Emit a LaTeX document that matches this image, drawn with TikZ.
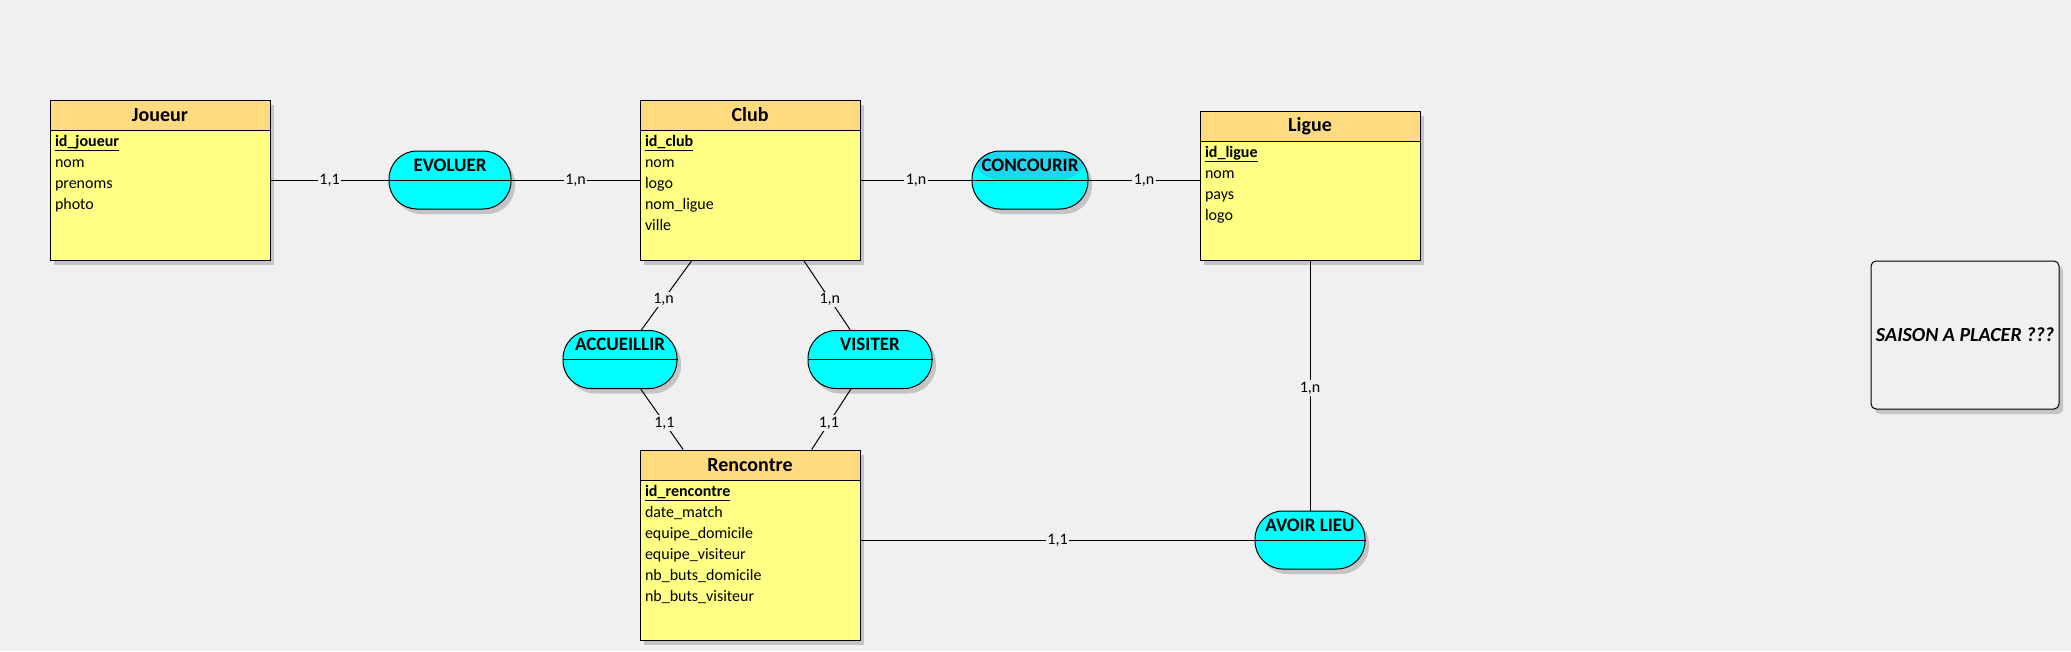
\documentclass[tikz,border=0pt]{standalone}
\usepackage{fontspec}
\setmainfont{Carlito}
\usetikzlibrary{calc, positioning}
\usetikzlibrary{shadows}

\definecolor{bgcol}{HTML}{F0F0F0}
\definecolor{headcol}{HTML}{FFDB80}
\definecolor{bodycol}{HTML}{FFFF85}
\definecolor{assoccol}{HTML}{00FFFF}
\definecolor{assocdark}{HTML}{1CD6F2}
\definecolor{shadowcol}{HTML}{C4C4C4}

\tikzset{
  boxshadow/.style={drop shadow={shadow xshift=4pt, shadow yshift=-5pt, fill=shadowcol, opacity=1}},
  entity/.style={draw, fill=bodycol, minimum width=220pt, inner sep=0pt, boxshadow},
  enthead/.style={draw, fill=headcol, minimum width=220pt, minimum height=30pt, inner sep=0pt,
    anchor=north, font=\bfseries\fontsize{20}{22}\selectfont},
  attrs/.style={anchor=north west, align=left, inner xsep=5pt, inner ysep=4pt,
    font=\fontsize{16}{21}\selectfont},
  assoc/.style={draw, fill=assoccol, rounded corners=28pt, minimum height=58pt, inner sep=0pt,
    text height=13pt, text depth=31pt, font=\bfseries\fontsize{19}{21}\selectfont, boxshadow},
  card/.style={fill=bgcol, inner sep=1.5pt, font=\fontsize{16}{18}\selectfont},
}

\begin{document}
\begin{tikzpicture}[x=1pt, y=-1pt, line width=1pt]
\fill[bgcol] (0,0) rectangle (2071,651);
\useasboundingbox (0,0) rectangle (2071,651);

% entites
\node[entity, minimum height=160pt] (joueur) at (160,180) {};
\node[enthead] (joueurh) at (joueur.north) {Joueur};
\node[attrs] (joueura) at (joueurh.south west)
  {\textbf{\underline{id\_joueur}}\\nom\\prenoms\\photo};

\node[entity, minimum height=160pt] (club) at (750,180) {};
\node[enthead] (clubh) at (club.north) {Club};
\node[attrs] (cluba) at (clubh.south west)
  {\textbf{\underline{id\_club}}\\nom\\logo\\nom\_ligue\\ville};

\node[entity, minimum height=149pt] (ligue) at (1310,185.5) {};
\node[enthead] (ligueh) at (ligue.north) {Ligue};
\node[attrs] (liguea) at (ligueh.south west)
  {\textbf{\underline{id\_ligue}}\\nom\\pays\\logo};

\node[entity, minimum height=190pt] (rencontre) at (750,545) {};
\node[enthead] (rencontreh) at (rencontre.north) {Rencontre};
\node[attrs] (rencontrea) at (rencontreh.south west)
  {\textbf{\underline{id\_rencontre}}\\date\_match\\equipe\_domicile\\equipe\_visiteur\\nb\_buts\_domicile\\nb\_buts\_visiteur};

% associations
\node[assoc, minimum width=122pt] (evoluer) at (450,180) {EVOLUER};
\node[assoc, minimum width=116pt,
  path picture={\fill[assocdark] (path picture bounding box.north west) rectangle (path picture bounding box.east);}]
  (concourir) at (1030,180) {CONCOURIR};
\node[assoc, minimum width=114pt] (accueillir) at (620,359.5) {ACCUEILLIR};
\node[assoc, minimum width=124pt] (visiter) at (870,359.5) {VISITER};
\node[assoc, minimum width=110pt] (avoirlieu) at (1310,540) {AVOIR LIEU};

\foreach \a in {evoluer, concourir, accueillir, visiter, avoirlieu}
  \draw (\a.west) -- (\a.east);

% liens
\draw (joueur) -- node[card] {1,1} (evoluer);
\draw (evoluer) -- node[card] {1,n} (club);
\draw (club) -- node[card] {1,n} (concourir);
\draw (concourir.east) -- node[card] {1,n} (concourir.east -| ligue.west);
\draw (club) -- node[card, pos=0.56] {1,n} (accueillir);
\draw (club) -- node[card, pos=0.56] {1,n} (visiter);
\draw (accueillir) -- node[card, pos=0.56] {1,1} (rencontre);
\draw (visiter) -- node[card, pos=0.56] {1,1} (rencontre);
\draw (ligue) -- node[card, pos=0.51] {1,n} (avoirlieu);
\draw (avoirlieu.west -| rencontre.east) -- node[card] {1,1} (avoirlieu.west);

\node[draw, fill=bgcol, rounded corners=5pt, minimum width=188pt, minimum height=148pt, boxshadow,
  font=\bfseries\itshape\fontsize{20}{22}\selectfont] (saison) at (1965,335) {SAISON A PLACER ???};
\end{tikzpicture}
\end{document}
